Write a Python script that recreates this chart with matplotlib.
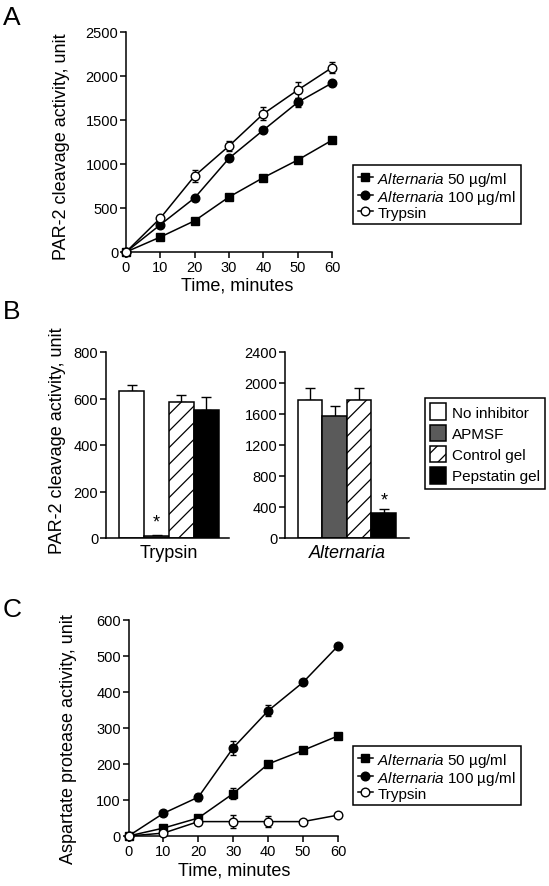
import matplotlib
matplotlib.use("Agg")
import matplotlib.pyplot as plt
from matplotlib.lines import Line2D
from matplotlib.patches import Patch
import numpy as np

plt.rcParams['font.family'] = ['Liberation Sans', 'DejaVu Sans']
plt.rcParams['mathtext.fontset'] = 'custom'
plt.rcParams['mathtext.rm'] = 'Liberation Sans'
plt.rcParams['mathtext.it'] = 'Liberation Sans:italic'
plt.rcParams['mathtext.bf'] = 'Liberation Sans:bold'
plt.rcParams['hatch.linewidth'] = 0.9
plt.rcParams['axes.linewidth'] = 1.1

W, H = 549, 887

# ---------------- data ----------------
time_min = [0, 10, 20, 30, 40, 50, 60]

# Panel A: PAR-2 cleavage activity
a_alt50 = [0, 170, 355, 625, 845, 1045, 1270]
a_alt50_err = [0, 10, 10, 10, 10, 10, 10]
a_alt100 = [0, 310, 615, 1065, 1385, 1700, 1920]
a_alt100_err = [0, 15, 20, 30, 25, 50, 20]
a_tryp = [0, 385, 865, 1205, 1570, 1840, 2095]
a_tryp_err = [0, 20, 70, 60, 75, 90, 65]

# Panel B: inhibitors
b_groups = ['No inhibitor', 'APMSF', 'Control gel', 'Pepstatin gel']
b_tryp = [632, 10, 585, 550]
b_tryp_err = [28, 5, 32, 55]
b_alt = [1780, 1580, 1780, 320]
b_alt_err = [150, 120, 150, 50]

# Panel C: aspartate protease activity
c_alt50 = [0, 22, 50, 118, 200, 238, 278]
c_alt50_err = [0, 3, 5, 15, 5, 5, 5]
c_alt100 = [0, 63, 108, 245, 348, 427, 528]
c_alt100_err = [0, 4, 10, 20, 15, 5, 5]
c_tryp = [0, 8, 40, 40, 40, 40, 58]
c_tryp_err = [0, 3, 5, 18, 15, 5, 5]

series_labels = ['$\\it{Alternaria}$ 50 µg/ml', '$\\it{Alternaria}$ 100 µg/ml', 'Trypsin']

fig = plt.figure(figsize=(W / 100, H / 100), dpi=100)


def add_ax(x0, x1, ytop, ybot):
    return fig.add_axes([x0 / W, 1 - ybot / H, (x1 - x0) / W, (ybot - ytop) / H])


def style(ax):
    ax.spines['top'].set_visible(False)
    ax.spines['right'].set_visible(False)
    ax.tick_params(direction='out', length=4, width=1.1, labelsize=10.5, pad=1.5, colors='black')


def line_panel(ax, s1, e1, s2, e2, s3, e3):
    kw = dict(color='black', lw=1.1, ms=6.2, mew=1.0, capsize=2.5, elinewidth=1.0, clip_on=False, zorder=3)
    ax.errorbar(time_min, s1, yerr=e1, marker='s', mfc='black', mec='black', **kw)
    ax.errorbar(time_min, s2, yerr=e2, marker='o', mfc='black', mec='black', **kw)
    ax.errorbar(time_min, s3, yerr=e3, marker='o', mfc='white', mec='black', **kw)
    ax.set_xlim(0, 60)
    ax.set_xticks(range(0, 61, 10))


def line_legend(ytop):
    handles = [
        Line2D([], [], color='black', lw=1.1, marker='s', ms=6.2, mfc='black', mec='black'),
        Line2D([], [], color='black', lw=1.1, marker='o', ms=6.2, mfc='black', mec='black'),
        Line2D([], [], color='black', lw=1.1, marker='o', ms=6.2, mfc='white', mec='black'),
    ]
    leg = fig.legend(handles, series_labels, loc='upper left',
                     bbox_to_anchor=(353 / W, 1 - ytop / H), borderaxespad=0,
                     fontsize=11, handlelength=1.0, handletextpad=0.3,
                     labelspacing=0.0, borderpad=0.3, fancybox=False,
                     edgecolor='black', framealpha=1)
    leg.get_frame().set_linewidth(1.1)
    return leg


# ---------------- Panel A ----------------
axA = add_ax(126, 332, 33, 253)
style(axA)
line_panel(axA, a_alt50, a_alt50_err, a_alt100, a_alt100_err, a_tryp, a_tryp_err)
axA.set_ylim(0, 2500)
axA.set_yticks(range(0, 2501, 500))
line_legend(166)
fig.text(61.5 / W, 1 - 147 / H, 'PAR-2 cleavage activity, unit', rotation=90,
         ha='center', va='center', fontsize=13)
fig.text(237 / W, 1 - 286 / H, 'Time, minutes', ha='center', va='center', fontsize=13)
fig.text(3 / W, 1 - 18 / H, 'A', ha='left', va='center', fontsize=19)

# ---------------- Panel B ----------------
bar_colors = ['white', '#5a5a5a', 'white', 'black']
bar_hatch = ['', '', '//', '']


def bar_panel(ax, vals, errs):
    x = np.arange(len(vals))
    for i in range(len(vals)):
        ax.bar(x[i], vals[i], width=1.0, color=bar_colors[i], edgecolor='black',
               linewidth=1.1, hatch=bar_hatch[i], zorder=2)
    ax.errorbar(x, vals, yerr=[np.zeros(len(vals)), errs], fmt='none', ecolor='black',
                elinewidth=1.0, capsize=3.5, capthick=1.0, zorder=1)


axB1 = add_ax(106, 229, 353, 539)
style(axB1)
bar_panel(axB1, b_tryp, b_tryp_err)
axB1.set_xlim(-1.04, 3.92)
axB1.set_ylim(0, 800)
axB1.set_yticks(range(0, 801, 200))
axB1.set_xticks([1.5])
axB1.set_xticklabels(['Trypsin'], fontsize=13)
axB1.tick_params(axis='x', length=0, pad=4)
axB1.text(1, b_tryp[1] + b_tryp_err[1] + 18, '*', ha='center', va='bottom', fontsize=13)

axB2 = add_ax(285, 408.5, 353, 539)
style(axB2)
bar_panel(axB2, b_alt, b_alt_err)
axB2.set_xlim(-1.03, 4.01)
axB2.set_ylim(0, 2400)
axB2.set_yticks(range(0, 2401, 400))
axB2.set_xticks([1.5])
axB2.set_xticklabels(['Alternaria'], fontsize=13, style='italic')
axB2.tick_params(axis='x', length=0, pad=4)
axB2.text(3, b_alt[3] + b_alt_err[3] + 15, '*', ha='center', va='bottom', fontsize=13)

handlesB = [Patch(facecolor=bar_colors[i], edgecolor='black', hatch=bar_hatch[i], linewidth=1.1)
            for i in range(4)]
legB = fig.legend(handlesB, b_groups, loc='upper left', bbox_to_anchor=(425 / W, 1 - 399 / H),
                  borderaxespad=0, fontsize=11, handlelength=1.0, handleheight=1.3,
                  handletextpad=0.4, labelspacing=0.3, borderpad=0.35, fancybox=False,
                  edgecolor='black', framealpha=1)
legB.get_frame().set_linewidth(1.1)
fig.text(57 / W, 1 - 441 / H, 'PAR-2 cleavage activity, unit', rotation=90,
         ha='center', va='center', fontsize=13)
fig.text(3 / W, 1 - 312 / H, 'B', ha='left', va='center', fontsize=19)

# ---------------- Panel C ----------------
axC = add_ax(128.5, 338, 621, 837)
style(axC)
line_panel(axC, c_alt50, c_alt50_err, c_alt100, c_alt100_err, c_tryp, c_tryp_err)
axC.set_ylim(0, 600)
axC.set_yticks(range(0, 601, 100))
line_legend(747)
fig.text(68.5 / W, 1 - 739.5 / H, 'Aspartate protease activity, unit', rotation=90,
         ha='center', va='center', fontsize=13)
fig.text(234 / W, 1 - 871 / H, 'Time, minutes', ha='center', va='center', fontsize=13)
fig.text(3 / W, 1 - 610 / H, 'C', ha='left', va='center', fontsize=19)

fig.savefig('out.png', dpi=100, facecolor='white')
